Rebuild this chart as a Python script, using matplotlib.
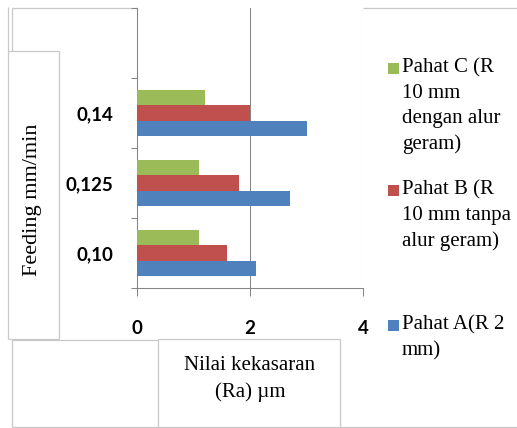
import numpy as np
import matplotlib
matplotlib.use("Agg")
import matplotlib.pyplot as plt
from matplotlib.patches import Rectangle
from matplotlib.ticker import FixedLocator

W, H = 517, 428
fig = plt.figure(figsize=(W / 100, H / 100), dpi=100, facecolor="white")

# data
feeding = ["0,10", "0,125", "0,14"]
pahat_a = [2.1, 2.7, 3.0]
pahat_b = [1.6, 1.8, 2.0]
pahat_c = [1.1, 1.1, 1.2]
series_labels = ["Pahat A(R 2\nmm)",
                 "Pahat B (R\n10 mm tanpa\nalur geram)",
                 "Pahat C (R\n10 mm\ndengan alur\ngeram)"]
colors = ["#4F81BD", "#C0504D", "#9BBB59"]
x_ticks = [0, 2, 4]

AXIS = "#868686"
BOX = "#C8C8C8"
SERIF = "Liberation Serif"

# background layer in pixel coordinates for the text boxes
bg = fig.add_axes([0, 0, 1, 1], zorder=0)
bg.set_xlim(0, W); bg.set_ylim(H, 0); bg.axis("off")

def seg(x0, y0, x1, y1):
    bg.plot([x0, x1], [y0, y1], color=BOX, lw=0.9, solid_capstyle="butt")

seg(11.7, 8, 137, 8); seg(11.7, 8, 11.7, 51)           # top-left box
seg(8, 7, 8, 339); seg(8, 51, 59, 51); seg(59, 51, 59, 339); seg(8, 339, 59, 339)  # feeding box
seg(11.7, 340, 11.7, 427); seg(11.7, 340, 158, 340); seg(158, 339, 158, 427)      # lower-left box
seg(158, 339, 340, 339); seg(340, 339, 340, 427)                                  # title box
seg(11.7, 427, 517, 427)
seg(363, 8, 517, 8)                                                                # legend box

bg.text(33, 200, "Feeding mm/min", rotation=90, ha="center", va="center",
        fontsize=16, family=SERIF, color="black")
bg.text(250, 366, "Nilai kekasaran", ha="center", va="center",
        fontsize=15, family=SERIF)
bg.text(250, 392, "(Ra) µm", ha="center", va="center",
        fontsize=15, family=SERIF)

# legend drawn by hand (top to bottom: C, B, A)
leg_y = [68, 190, 325]
for lab, col, y0 in zip(series_labels[::-1], colors[::-1], leg_y):
    bg.add_patch(Rectangle((387.5, y0 - 5.5), 11, 11, facecolor=col, edgecolor="none"))
    for i, line in enumerate(lab.split("\n")):
        bg.text(402, y0 + i * 25.4, line, ha="left", va="center",
                fontsize=15, family=SERIF)

# plot area
ax = fig.add_axes([137 / W, 1 - 288 / H, 226 / W, 280 / H], zorder=1)
ax.set_facecolor("none")

y = np.arange(len(feeding))
bh = 0.219
for k, (vals, col) in enumerate(zip([pahat_a, pahat_b, pahat_c], colors)):
    ax.barh(y + (k - 1) * bh, vals, height=bh, color=col, zorder=3)

ax.set_xlim(0, 4)
ax.set_ylim(-0.5, 3.5)
ax.set_xticks(x_ticks)
ax.set_xticklabels([str(v) for v in x_ticks], fontsize=13.5, fontweight="bold", family="Lato")
ax.set_yticks(y)
ax.set_yticklabels(feeding, fontsize=13.5, fontweight="bold", family="Lato")
ax.yaxis.set_minor_locator(FixedLocator(np.arange(-0.5, 3.6, 1.0)))
ax.tick_params(axis="y", which="major", length=0, pad=17)
ax.tick_params(axis="y", which="minor", length=4.5, width=0.75, color=AXIS)
ax.tick_params(axis="x", which="major", length=6, width=0.75, color=AXIS, pad=17)

ax.grid(axis="x", color=AXIS, lw=0.75, zorder=0)
ax.set_axisbelow(True)
for s in ["top", "right"]:
    ax.spines[s].set_visible(False)
for s in ["left", "bottom"]:
    ax.spines[s].set_color(AXIS)
    ax.spines[s].set_linewidth(0.75)

fig.savefig("out.png", dpi=100, facecolor="white")
